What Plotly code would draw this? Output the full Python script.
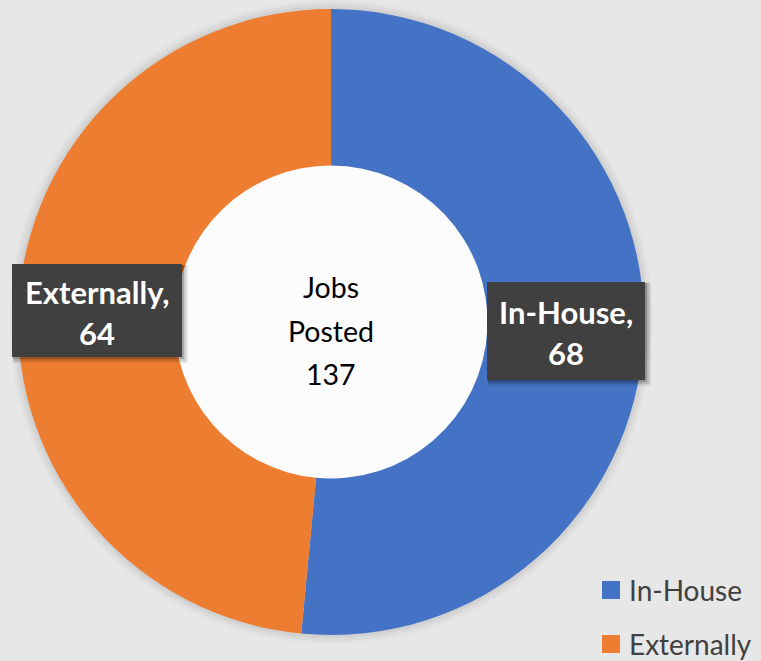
import plotly.graph_objects as go

categories = ["In-House", "Externally"]
values = [68, 64]
colors = ["#4472C4", "#ED7D31"]
center_lines = ["Jobs", "Posted", "137"]

W, H = 761, 661
cx, cy, R = 331, 322, 313
FONT = "Lato, Open Sans, sans-serif"

def px(x):
    return x / W

def py(y):
    return 1 - y / H

fig = go.Figure()
fig.add_trace(go.Pie(
    labels=categories,
    values=values,
    marker=dict(colors=colors, line=dict(width=0)),
    hole=0.5,
    sort=False,
    direction="clockwise",
    rotation=0,
    textinfo="none",
    hoverinfo="label+value",
    domain=dict(x=[px(cx - R), px(cx + R)], y=[py(cy + R), py(cy - R)]),
    showlegend=False,
))

shapes = []
# soft shadow around donut
for d, a in [(9, 0.02), (6, 0.03), (3, 0.04)]:
    shapes.append(dict(type="circle", xref="paper", yref="paper", layer="below",
                       x0=px(cx - R - d), x1=px(cx + R + d), y0=py(cy + R + d), y1=py(cy - R - d),
                       fillcolor=f"rgba(0,0,0,{a})", line=dict(width=0)))
# white hole
shapes.append(dict(type="circle", xref="paper", yref="paper", layer="below",
                   x0=px(cx - 158), x1=px(cx + 158), y0=py(cy + 158), y1=py(cy - 158),
                   fillcolor="#fcfcfc", line=dict(width=0)))

# label boxes (x0, y0, x1, y1 in pixels) for Externally and In-House
boxes = {1: (12, 264, 182, 357), 0: (487, 282, 645, 380)}
for i, (x0, y0, x1, y1) in boxes.items():
    for d, a in [(6, 0.08), (4, 0.12), (2, 0.18)]:
        shapes.append(dict(type="rect", xref="paper", yref="paper", layer="above",
                           x0=px(x0 + 1), x1=px(x1 + d), y0=py(y1 + d), y1=py(y0 + 1),
                           fillcolor=f"rgba(0,0,0,{a})", line=dict(width=0)))
    shapes.append(dict(type="rect", xref="paper", yref="paper", layer="above",
                       x0=px(x0), x1=px(x1), y0=py(y1), y1=py(y0),
                       fillcolor="#404040", line=dict(width=0)))

annotations = []
label_font = dict(family=FONT, size=31, color="white")
for i, (x0, y0, x1, y1) in boxes.items():
    xc = (x0 + x1) / 2
    yc = (y0 + y1) / 2
    annotations.append(dict(text=f"<b>{categories[i]},</b>", x=px(xc), y=py(yc - 19),
                            xref="paper", yref="paper", xanchor="center", yanchor="middle",
                            showarrow=False, font=label_font))
    annotations.append(dict(text=f"<b>{values[i]}</b>", x=px(xc), y=py(yc + 22),
                            xref="paper", yref="paper", xanchor="center", yanchor="middle",
                            showarrow=False, font=label_font))

for k, line in enumerate(center_lines):
    annotations.append(dict(text=line, x=px(331), y=py(287 + 43.5 * k),
                            xref="paper", yref="paper", xanchor="center", yanchor="middle",
                            showarrow=False, font=dict(family=FONT, size=28.5, color="black")))

# legend (manual)
leg_y = [590, 644]
for i, cat in enumerate(categories):
    shapes.append(dict(type="rect", xref="paper", yref="paper", layer="above",
                       x0=px(602), x1=px(620), y0=py(leg_y[i] + 9), y1=py(leg_y[i] - 9),
                       fillcolor=colors[i], line=dict(width=0)))
    annotations.append(dict(text=cat, x=px(627), y=py(leg_y[i]), xref="paper", yref="paper",
                            xanchor="left", yanchor="middle", showarrow=False,
                            font=dict(family=FONT, size=28, color="#404040")))

fig.update_layout(
    width=W, height=H,
    margin=dict(l=0, r=0, t=0, b=0),
    paper_bgcolor="#e7e7e7",
    plot_bgcolor="#e7e7e7",
    shapes=shapes,
    annotations=annotations,
    showlegend=False,
)

fig.write_html("out.html")
